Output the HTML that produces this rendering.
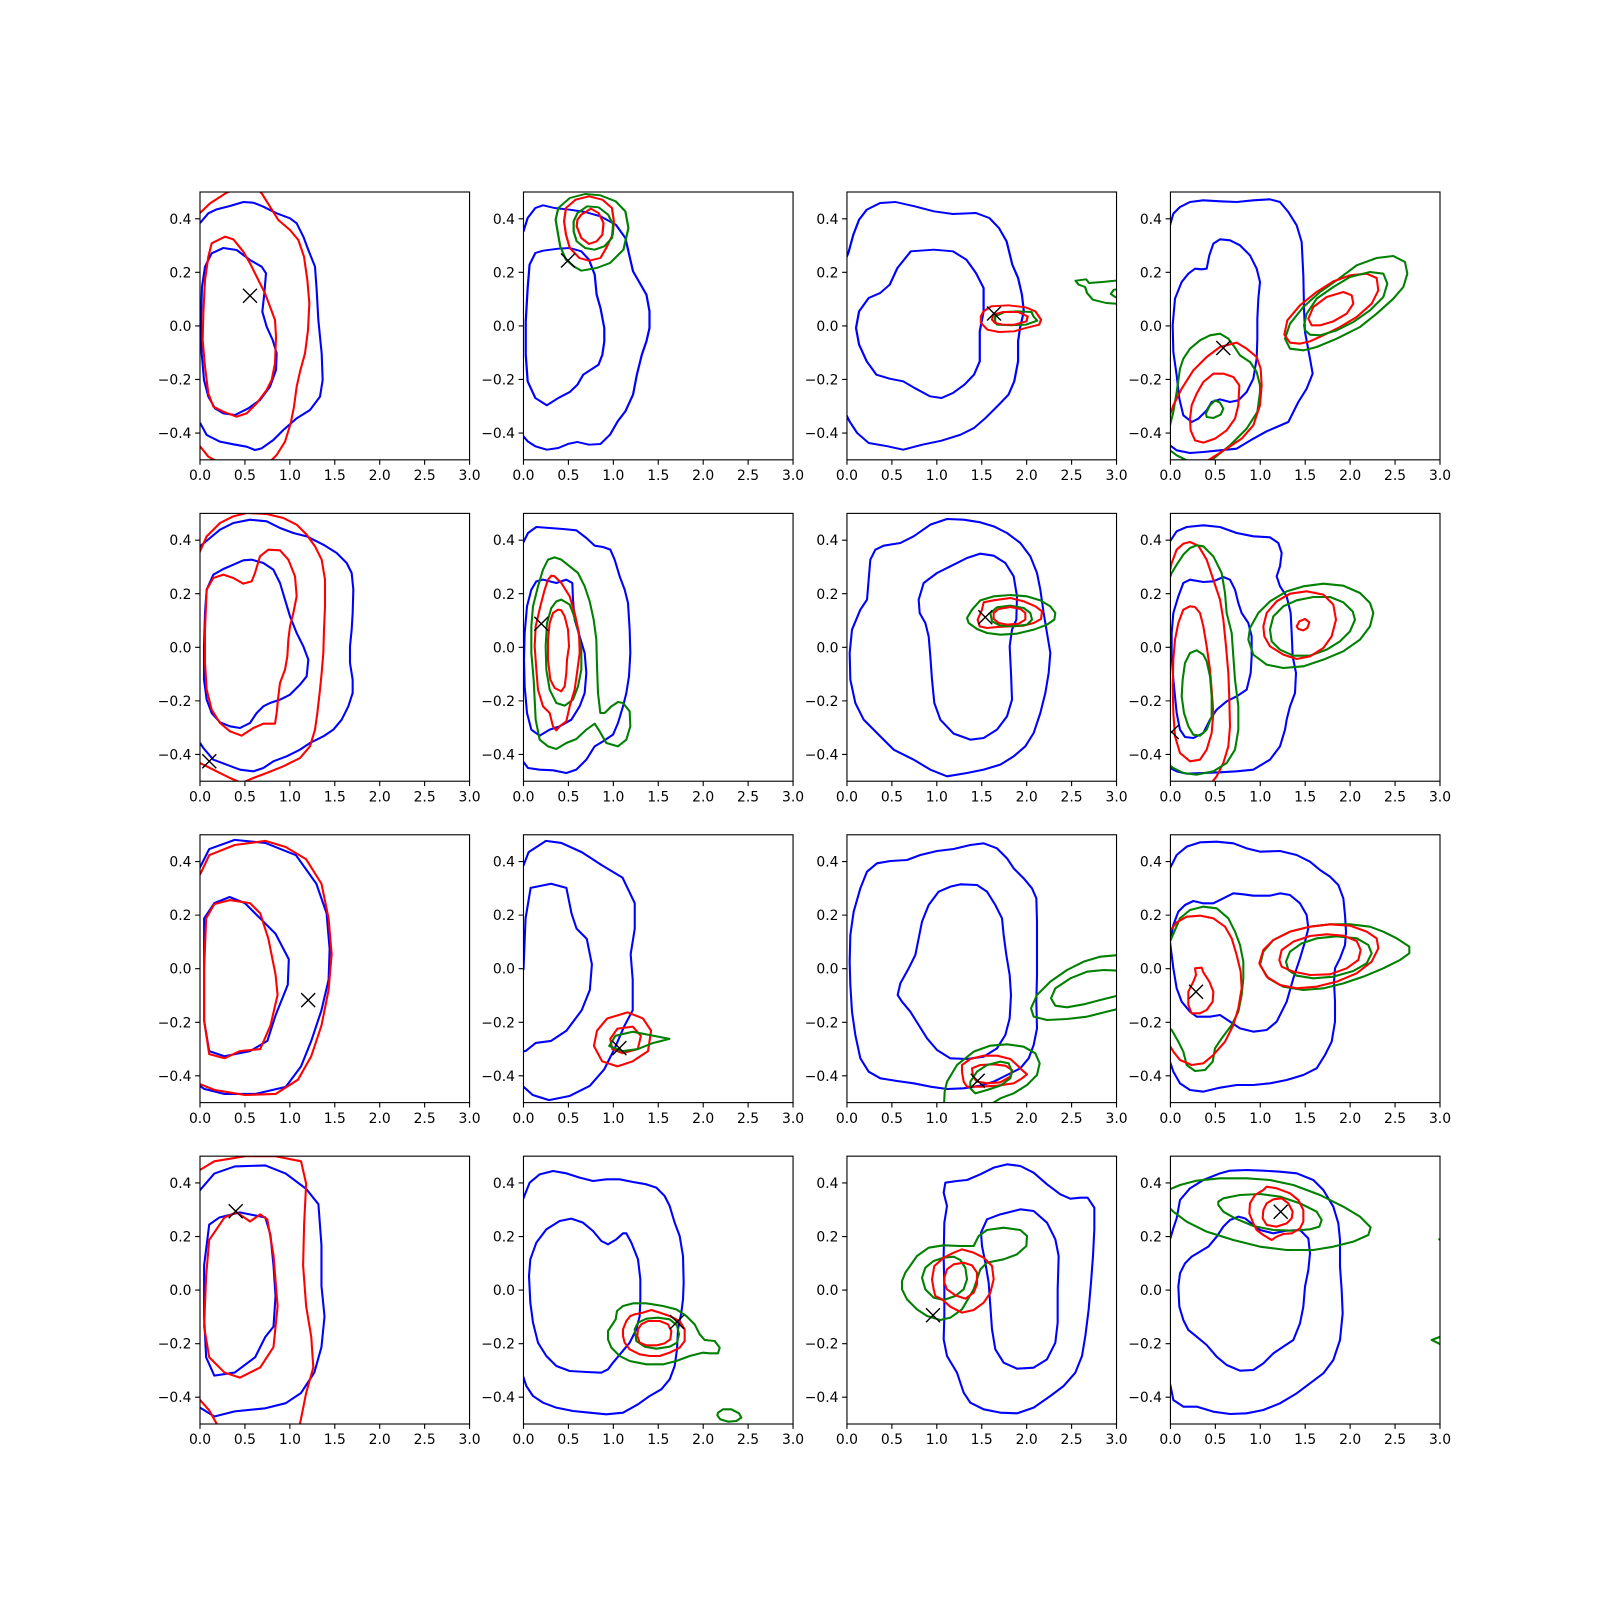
<!DOCTYPE html>
<html><head><meta charset="utf-8"><style>
html,body{margin:0;padding:0;background:#fff;}
svg{display:block;}
.b,.r,.g{fill:none;stroke-linejoin:round;stroke-linecap:round;}
.b{stroke:#0000ff;}.r{stroke:#ff0000;}.g{stroke:#008000;}
.s3{stroke-width:6.25;}
.sz{stroke-width:5.8;}
.s1{stroke-width:2.04;}
.fr{fill:none;stroke:#000;stroke-width:1.11;}
.tk{fill:none;stroke:#000;stroke-width:1.11;}
.mk{fill:none;stroke:#000;stroke-width:1.39;}
text{font-family:"DejaVu Sans","Liberation Sans",sans-serif;font-size:13.9px;fill:#000;}
.xl{text-anchor:middle;}.yl{text-anchor:end;}
</style></head><body>
<svg width="1600" height="1600" viewBox="0 0 1600 1600" xmlns="http://www.w3.org/2000/svg">
<rect width="1600" height="1600" fill="#fff"/>
<defs>
<clipPath id="c11"><rect x="200" y="192" width="269.57" height="267.83"/></clipPath>
<clipPath id="c12"><rect x="523.48" y="192" width="269.57" height="267.83"/></clipPath>
<clipPath id="c13"><rect x="846.96" y="192" width="269.57" height="267.83"/></clipPath>
<clipPath id="c14"><rect x="1170.43" y="192" width="269.57" height="267.83"/></clipPath>
<clipPath id="c21"><rect x="200" y="513.39" width="269.57" height="267.83"/></clipPath>
<clipPath id="c22"><rect x="523.48" y="513.39" width="269.57" height="267.83"/></clipPath>
<clipPath id="c23"><rect x="846.96" y="513.39" width="269.57" height="267.83"/></clipPath>
<clipPath id="c24"><rect x="1170.43" y="513.39" width="269.57" height="267.83"/></clipPath>
<clipPath id="c31"><rect x="200" y="834.78" width="269.57" height="267.83"/></clipPath>
<clipPath id="c32"><rect x="523.48" y="834.78" width="269.57" height="267.83"/></clipPath>
<clipPath id="c33"><rect x="846.96" y="834.78" width="269.57" height="267.83"/></clipPath>
<clipPath id="c34"><rect x="1170.43" y="834.78" width="269.57" height="267.83"/></clipPath>
<clipPath id="c41"><rect x="200" y="1156.17" width="269.57" height="267.83"/></clipPath>
<clipPath id="c42"><rect x="523.48" y="1156.17" width="269.57" height="267.83"/></clipPath>
<clipPath id="c43"><rect x="846.96" y="1156.17" width="269.57" height="267.83"/></clipPath>
<clipPath id="c44"><rect x="1170.43" y="1156.17" width="269.57" height="267.83"/></clipPath>
</defs>

<!-- Panel 1,1 -->
<g clip-path="url(#c11)">
<g transform="translate(150,180) scale(0.33333)" class="s3">
<polyline class="b" points="135,138 151,128 175,100 200,88 240,78 280,66 310,68 340,80 380,100 420,115 440,130 460,170 475,210 495,260 500,330 505,420 515,520 518,600 510,650 480,690 440,715 400,750 370,780 335,805 315,810 290,800 250,793 210,785 170,765 151,730 135,718"/>
<polygon class="b" points="220,204 260,210 300,240 335,260 348,280 343,340 337,395 350,440 368,480 380,520 378,570 360,620 330,660 295,685 255,705 220,700 195,685 175,650 162,600 155,520 153,420 156,320 165,260 185,220"/>
<polyline class="r" points="135,115 151,98 180,70 230,38 260,25 320,25 335,40 360,80 385,120 420,150 445,180 462,230 472,300 478,370 474,450 465,520 450,575 440,620 432,680 422,730 405,785 380,825 360,845 300,860 220,855 175,830 151,800 135,788"/>
<polygon class="r" points="225,170 250,178 280,215 300,250 325,300 345,340 360,380 375,420 378,470 375,550 365,600 350,630 320,670 290,700 260,710 220,695 190,680 175,640 165,560 158,480 160,400 165,300 175,230 185,190"/>
</g>
<path class="mk" d="M243,288.7l14,14M243,302.7l14,-14"/>
</g>

<!-- Panel 1,2 -->
<g clip-path="url(#c12)">
<g transform="translate(520,188) scale(0.38314,0.33333)" class="sz">
<polyline class="b" points="-5,145 9,130 20,90 40,60 60,52 90,60 130,65 170,72 210,85 250,110 275,150 285,200 295,250 310,280 330,320 338,370 338,420 330,460 318,500 305,560 295,620 275,670 255,700 235,740 210,768 180,770 150,762 125,768 100,780 70,785 40,775 20,760 9,745 -5,738"/>
<polygon class="b" points="40,195 25,230 20,300 15,400 15,500 20,580 40,630 70,652 100,630 130,612 150,590 165,560 185,545 205,530 215,500 220,460 220,420 210,360 200,320 195,260 180,215 160,190 130,180 100,182 60,188"/>
<polygon class="g" points="100,60 130,30 170,18 210,22 250,40 275,70 283,120 270,185 235,225 200,240 160,248 140,235 120,215 105,175 98,130 93,95"/>
<polygon class="r" points="120,60 145,35 180,25 215,35 240,60 245,100 242,140 225,180 210,210 180,218 155,210 130,180 120,140 115,100"/>
<polygon class="g" points="150,75 175,55 205,58 230,80 243,110 240,150 220,175 195,185 170,180 148,160 140,130 140,100"/>
<polygon class="r" points="160,80 185,62 205,75 218,105 215,140 200,160 180,168 160,150 148,115 150,95"/>
</g>
<path class="mk" d="M561,253.5l14,14M561,267.5l14,-14"/>
</g>

<!-- Panel 1,3 -->
<g clip-path="url(#c13)">
<g transform="translate(520,188) scale(0.38314,0.33333)" class="sz">
<polyline class="b" points="840,240 857,195 870,140 885,95 905,65 940,45 980,42 1030,55 1080,70 1130,78 1190,75 1225,90 1250,120 1270,160 1285,230 1300,270 1310,320 1315,370 1305,420 1300,460 1300,520 1290,580 1275,620 1250,650 1215,690 1185,720 1150,740 1100,758 1050,770 1000,785 960,775 910,765 880,735 860,700 845,665"/>
<polygon class="b" points="1020,190 1080,185 1130,190 1165,215 1190,255 1210,300 1210,370 1200,430 1200,520 1185,560 1160,590 1130,615 1100,630 1070,625 1030,600 1000,580 965,572 930,560 905,520 885,470 877,420 885,370 910,330 940,315 965,290 985,240"/>
<polygon class="r" points="1210,370 1230,355 1275,352 1320,358 1345,370 1360,395 1355,410 1320,420 1290,430 1250,432 1220,425 1203,405 1203,385"/>
<polygon class="g" points="1240,385 1265,372 1300,370 1335,372 1340,385 1350,398 1320,410 1280,412 1245,410 1240,400"/>
<polygon class="r" points="1235,380 1260,372 1300,372 1325,385 1322,400 1290,410 1260,410 1240,405 1232,395"/>
<polyline class="g" points="1620,270 1520,282 1485,285 1478,274 1450,278 1458,290 1475,297 1480,315 1495,335 1530,345 1620,352"/>
<polyline class="g" points="1620,298 1550,305 1542,318 1555,328 1620,332"/>
</g>
<path class="mk" d="M987,306.5l14,14M987,320.5l14,-14"/>
</g>

<!-- Panel 1,4 -->
<g clip-path="url(#c14)">
<g transform="translate(1170,192) scale(0.33333)" class="s3">
<polyline class="b" points="-10,110 0,100 10,65 30,45 60,30 100,25 150,28 200,30 250,25 300,22 330,30 355,60 380,100 395,150 400,250 402,350 405,420 420,500 428,545 410,590 385,630 355,690 320,705 290,718 250,740 200,770 150,775 100,780 60,783 20,775 0,760 -10,752"/>
<polygon class="b" points="150,142 130,155 118,190 110,230 95,232 75,230 55,245 35,270 15,320 8,400 10,480 20,550 28,620 40,670 65,690 85,680 110,655 125,630 150,622 180,630 205,625 230,600 250,560 260,500 262,440 262,380 265,320 270,270 260,230 240,190 210,160 180,145"/>
<polygon class="g" points="-15,740 0,700 10,660 20,600 30,530 40,500 60,470 90,445 120,430 150,425 175,440 190,460 210,490 240,510 260,540 270,580 270,600 262,660 230,710 180,760 130,800 90,815 50,805 20,790 0,775 -15,770"/>
<polygon class="g" points="110,660 120,640 135,625 150,632 160,650 152,668 130,678 110,675 108,665"/>
<polyline class="r" points="-15,710 10,640 35,590 70,535 110,495 150,465 200,452 230,470 260,495 272,530 275,580 270,640 250,700 215,740 170,770 130,795 90,820"/>
<polygon class="r" points="130,545 160,545 190,555 208,580 205,640 195,680 170,715 135,740 100,752 75,745 62,715 60,680 65,640 80,605 100,570"/>
<polygon class="g" points="345,440 360,395 400,345 450,300 500,265 560,220 620,198 670,192 705,210 712,245 700,285 670,320 620,365 570,405 500,440 440,465 400,475 360,470"/>
<polygon class="r" points="343,428 352,385 390,340 440,300 490,268 540,250 590,245 620,258 625,295 605,335 560,375 510,405 460,430 420,448 390,455 360,452"/>
<polygon class="g" points="402,400 410,365 440,320 490,285 540,255 600,240 640,245 652,275 640,315 600,355 550,390 500,415 450,430 420,428 405,415"/>
<polygon class="r" points="415,380 430,345 470,315 520,300 545,310 550,335 530,365 490,388 450,400 425,400"/>
</g>
<path class="mk" d="M1216.3,341l14,14M1216.3,355l14,-14"/>
</g>

<!-- Panel 2,1 -->
<g clip-path="url(#c21)">
<g transform="translate(200,513) scale(0.33333)" class="s3">
<polyline class="b" points="-10,115 0,100 30,75 60,50 100,30 150,20 200,25 240,45 280,60 320,70 370,95 410,120 440,150 455,180 460,230 458,300 455,350 450,400 450,450 458,500 458,540 445,580 425,620 400,650 370,670 330,690 300,710 260,730 220,745 190,765 160,775 120,770 80,755 40,740 10,705 0,690 -10,680"/>
<polygon class="b" points="155,140 190,150 220,170 240,210 255,260 270,310 290,360 310,400 325,440 320,490 300,515 270,545 240,560 210,570 190,580 170,600 150,630 120,645 90,640 60,628 35,600 20,560 12,500 12,400 15,300 20,230 40,185 70,168 100,155 130,142"/>
<polyline class="r" points="-10,140 0,115 20,70 60,30 100,10 140,0 200,3 250,15 290,35 320,65 345,100 365,140 375,200 375,280 372,350 370,420 365,480 360,530 352,600 345,650 330,700 300,735 250,760 200,780 160,795 125,810 90,795 40,770 0,750 -10,745"/>
<polygon class="r" points="20,230 40,195 70,185 100,195 130,212 155,205 165,180 180,130 205,110 240,112 265,140 285,190 290,250 280,300 270,340 265,380 262,430 255,470 240,510 235,550 230,600 225,632 190,632 160,645 125,668 90,655 60,630 35,590 20,530 15,450 15,350"/>
</g>
<path class="mk" d="M202.3,754.3l14,14M202.3,768.3l14,-14"/>
</g>

<!-- Panel 2,2 -->
<g clip-path="url(#c22)">
<g transform="translate(523,513) scale(0.33333)" class="s3">
<polyline class="b" points="-10,105 0,90 15,60 40,42 80,45 120,48 160,52 190,75 215,98 240,102 262,110 275,140 290,190 305,230 315,270 320,350 322,420 318,490 310,540 300,580 285,630 270,665 240,685 215,700 190,740 160,770 130,780 90,772 50,770 15,765 0,745 -10,738"/>
<polygon class="b" points="40,205 60,200 100,210 130,200 148,210 150,260 155,320 170,370 185,420 190,480 185,540 170,580 145,620 110,640 80,650 50,668 25,650 12,600 5,520 3,440 5,360 12,280 25,230"/>
<polygon class="g" points="95,133 75,140 60,170 45,220 30,280 25,340 25,420 32,500 35,560 38,620 50,680 75,700 100,708 130,690 160,678 190,650 215,632 230,655 250,690 285,700 310,680 322,640 320,595 300,570 285,567 265,580 245,600 232,600 225,540 222,460 220,380 212,320 200,265 185,220 165,180 140,160 115,140"/>
<polygon class="g" points="115,260 100,265 85,285 72,330 68,400 70,470 80,530 100,570 125,578 150,560 165,520 175,470 175,410 165,350 150,300 140,275"/>
<polygon class="r" points="85,188 75,200 65,230 52,280 38,340 35,400 40,470 45,530 60,580 80,600 90,640 100,652 110,640 130,625 140,580 155,530 162,480 170,420 168,360 155,300 140,250 115,210 95,190"/>
<polygon class="r" points="105,290 90,300 80,330 75,380 75,440 82,500 95,525 115,535 125,520 130,480 132,440 138,400 135,350 125,310 115,292"/>
</g>
<path class="mk" d="M534.3,616.7l14,14M534.3,630.7l14,-14"/>
</g>

<!-- Panel 2,3 -->
<g clip-path="url(#c23)">
<g transform="translate(847,513) scale(0.33333)" class="s3">
<polygon class="b" points="300,18 350,20 400,28 440,40 480,60 520,90 550,130 570,180 580,230 590,300 600,360 610,420 605,480 595,540 580,600 560,660 535,700 500,730 460,755 410,770 360,780 300,790 250,770 200,740 140,710 100,670 50,620 25,570 10,500 8,420 15,350 40,290 60,260 65,200 70,140 85,110 110,98 160,90 200,70 250,35"/>
<polygon class="b" points="400,122 440,128 475,150 500,190 510,250 508,320 495,350 488,400 492,480 495,560 480,610 450,650 410,675 370,680 320,662 280,620 262,570 255,500 250,430 245,370 235,330 218,300 215,260 230,210 270,180 320,155 360,135"/>
<polygon class="g" points="360,315 375,290 400,262 440,250 490,246 540,250 580,262 610,280 625,300 622,320 600,335 560,350 510,362 460,365 420,360 390,348 365,330"/>
<polygon class="r" points="392,320 405,290 410,268 440,262 490,255 530,265 565,280 585,295 582,318 560,330 530,338 490,340 450,342 420,345 398,340"/>
<polygon class="g" points="430,300 450,283 490,278 530,285 550,300 555,320 540,335 500,340 460,338 435,325"/>
<polygon class="r" points="440,300 455,288 490,282 520,288 535,300 535,320 515,332 480,335 455,330 440,318"/>
</g>
<path class="mk" d="M978.3,610.3l14,14M978.3,624.3l14,-14"/>
</g>

<!-- Panel 2,4 -->
<g clip-path="url(#c24)">
<g transform="translate(1170,513) scale(0.33333)" class="s3">
<polyline class="b" points="-10,95 0,85 20,55 50,42 100,37 150,42 200,60 250,70 300,73 325,90 335,120 330,160 320,190 330,220 350,250 362,300 365,360 368,430 378,480 375,540 360,580 350,620 345,650 330,700 300,740 250,770 200,775 150,778 100,780 50,782 20,775 0,765 -10,760"/>
<polygon class="b" points="5,360 10,300 25,250 40,210 60,200 100,207 130,205 160,192 180,200 195,230 205,270 215,300 235,330 245,370 245,430 242,480 230,530 200,550 170,565 140,590 120,620 100,660 70,675 45,672 30,650 20,600 10,500 5,430"/>
<polyline class="r" points="-10,220 5,150 20,110 40,92 60,87 85,98 110,140 130,200 150,260 160,320 168,400 175,480 178,560 180,640 175,700 160,750 140,790 120,815"/>
<polyline class="g" points="-10,220 5,180 20,155 40,125 60,105 80,97 100,100 130,130 155,180 165,240 170,300 185,360 190,430 195,500 205,580 205,650 195,710 170,750 130,775 80,785 40,780 10,765 -10,750"/>
<polygon class="r" points="60,280 40,290 25,330 15,380 10,440 8,520 10,600 15,670 30,720 60,745 90,740 110,710 125,660 130,600 125,530 120,470 110,400 100,340 90,300 75,282"/>
<polygon class="g" points="80,412 60,420 45,450 38,500 35,550 42,600 55,640 70,665 90,668 110,650 125,610 125,550 120,490 110,445 100,425"/>
<polygon class="g" points="235,380 240,345 265,300 300,265 350,235 400,220 460,212 520,218 570,240 600,270 610,300 600,340 570,380 520,415 460,440 400,460 340,465 290,455 250,425"/>
<polygon class="g" points="300,350 310,310 340,280 380,262 430,252 480,252 520,268 548,295 555,320 540,355 510,385 470,410 420,428 370,428 330,410 305,385"/>
<polygon class="r" points="280,340 290,300 320,265 360,242 410,235 460,245 490,275 498,320 485,370 460,405 420,430 380,438 340,425 300,400 283,370"/>
<polygon class="r" points="380,340 388,325 405,318 418,328 412,345 400,352 385,348"/>
</g>
<path class="mk" d="M1164.7,725l14,14M1164.7,739l14,-14"/>
</g>

<!-- Panel 3,1 -->
<g clip-path="url(#c31)">
<g transform="scale(1.0205)" class="s1">
<polyline class="b" points="190,862 197,848 205,832 230,823 260,826 290,838 310,866 320,895 323,930 322,960 315,990 305,1020 295,1045 280,1065 250,1072 220,1072 200,1067 190,1060"/>
<polygon class="b" points="225,879 240,885 255,900 270,915 283,940 282,965 270,995 262,1020 245,1030 220,1035 205,1030 200,1000 200,950 200,900 210,885"/>
<polyline class="r" points="190,868 197,855 205,838 230,828 260,824 280,830 300,842 315,866 322,900 325,935 322,970 315,1005 305,1035 292,1058 270,1072 240,1073 210,1068 190,1060"/>
<polygon class="r" points="225,882 245,885 255,895 263,920 270,955 272,975 265,1005 255,1028 235,1030 220,1037 205,1033 200,1000 200,950 202,900 210,886"/>
</g>
<path class="mk" d="M301.2,993.1l14,14M301.2,1007.1l14,-14"/>
</g>

<!-- Panel 3,2 -->
<g clip-path="url(#c32)">
<g transform="scale(1.0205)" class="s1">
<polyline class="b" points="505,860 513,848 518,835 535,824 550,826 570,835 590,848 610,860 622,885 622,910 618,935 620,960 620,990 612,1005 602,1028 592,1048 578,1064 558,1074 538,1078 522,1073 513,1065 505,1058"/>
<polygon class="b" points="513,950 515,900 520,870 540,866 555,870 560,895 565,910 575,920 580,945 578,970 570,990 555,1010 540,1020 525,1022 515,1030 505,1030 505,950"/>
<polygon class="r" points="585,1010 595,998 615,992 630,998 638,1010 635,1030 620,1040 605,1045 590,1040 582,1025"/>
<polygon class="r" points="598,1018 605,1008 620,1006 628,1015 625,1028 610,1032 600,1028"/>
<polygon class="g" points="597,1025 603,1015 620,1011 656,1018 640,1022 625,1028 610,1030"/>
</g>
<path class="mk" d="M612.4,1041.1l14,14M612.4,1055.1l14,-14"/>
</g>

<!-- Panel 3,3 -->
<g clip-path="url(#c33)">
<g transform="translate(847,835) scale(0.33333)" class="s3">
<polygon class="b" points="20,230 40,160 60,110 90,85 130,78 180,75 220,60 270,48 320,42 370,30 410,25 450,40 480,70 500,100 530,130 555,160 568,190 570,260 570,340 570,420 568,500 570,580 560,630 545,670 520,700 480,720 440,740 400,752 350,760 300,762 250,755 200,745 150,738 100,730 65,710 40,670 25,600 15,530 10,450 8,380 10,300"/>
<polygon class="b" points="340,148 390,150 420,170 445,210 465,250 470,300 478,360 488,420 492,480 488,550 475,600 450,640 410,665 360,672 310,670 270,645 240,610 215,570 190,530 165,500 152,480 160,445 185,400 205,360 215,310 225,260 245,210 275,170 310,155"/>
<polyline class="g" points="840,358 760,365 710,380 660,405 610,440 570,480 552,520 560,545 600,555 660,552 720,545 780,530 840,515"/>
<polyline class="g" points="840,408 770,405 720,410 670,430 625,460 612,490 625,512 660,517 710,508 760,495 840,475"/>
<polyline class="g" points="290,830 293,770 300,740 330,690 380,650 430,632 480,628 530,635 565,655 578,685 570,720 540,750 500,775 460,790 420,815"/>
<polygon class="r" points="345,690 370,672 410,662 450,662 490,672 510,690 525,705 540,718 525,730 500,745 450,752 400,755 360,755 350,740 345,710"/>
<polygon class="r" points="375,700 400,690 440,688 475,692 495,705 490,725 460,742 420,745 390,740 378,725"/>
<polygon class="g" points="370,740 390,710 420,690 460,680 485,685 495,710 490,730 460,752 420,765 385,775 370,760"/>
</g>
<path class="mk" d="M970.7,1073.7l14,14M970.7,1087.7l14,-14"/>
</g>

<!-- Panel 3,4 -->
<g clip-path="url(#c34)">
<g transform="translate(1170,835) scale(0.33333)" class="s3">
<polyline class="b" points="-10,110 0,100 20,60 50,35 90,22 140,20 190,25 230,40 270,50 330,48 380,60 420,80 450,105 480,125 505,150 520,190 525,240 528,290 525,330 510,370 495,400 492,440 495,500 495,560 485,620 465,660 440,700 400,720 350,735 300,745 250,750 200,750 150,758 100,770 60,765 30,745 10,710 0,680 -10,670"/>
<polygon class="b" points="0,320 10,270 25,230 45,210 70,198 100,205 130,205 160,190 190,175 220,178 250,182 300,182 330,175 360,180 390,205 410,240 415,280 405,320 390,370 370,430 350,500 320,560 290,585 250,590 210,580 180,560 150,540 120,545 80,545 60,530 35,500 20,460 10,400 5,360"/>
<polyline class="g" points="-10,330 0,320 30,250 60,225 100,215 140,220 175,250 195,290 210,330 220,380 220,430 215,480 205,530 185,570 155,610 135,640 128,680 105,705 75,708 50,690 40,650 25,620 5,585 -10,570"/>
<polyline class="r" points="-10,300 20,262 50,245 90,242 130,250 165,275 185,310 200,360 212,410 215,460 205,520 190,570 165,620 130,660 100,685 65,690 30,675 10,650 -10,615"/>
<polygon class="r" points="75,400 95,398 100,412 118,440 130,470 128,500 110,525 90,535 65,535 55,510 55,470 70,440 78,420"/>
<polygon class="g" points="270,390 280,350 310,315 360,290 420,275 480,268 540,268 600,275 640,290 680,310 718,335 718,355 690,375 640,400 580,425 520,445 460,460 400,465 340,455 295,430"/>
<polygon class="r" points="268,385 280,345 310,315 360,290 420,275 480,268 540,272 590,290 620,310 625,340 605,380 560,415 500,440 440,455 380,460 330,450 290,425"/>
<polygon class="g" points="348,380 360,350 395,325 440,310 500,304 560,310 595,330 605,355 590,385 550,408 490,425 430,430 380,422 355,405"/>
<polygon class="r" points="328,375 335,345 370,320 420,303 470,298 520,302 560,318 572,345 565,375 530,400 480,418 420,420 370,410 335,395"/>
</g>
<path class="mk" d="M1189,984.7l14,14M1189,998.7l14,-14"/>
</g>

<!-- Panel 4,1 -->
<g clip-path="url(#c41)">
<g transform="scale(1.0205)" class="s1">
<polyline class="b" points="190,1175 197,1165 210,1150 230,1143 260,1142 280,1150 300,1165 312,1180 315,1220 315,1260 318,1290 315,1320 308,1345 295,1365 280,1375 260,1380 230,1383 210,1388 197,1380 190,1375"/>
<polygon class="b" points="205,1200 215,1193 235,1188 260,1193 265,1210 268,1240 270,1270 268,1300 260,1310 250,1330 230,1345 210,1348 202,1330 200,1290 200,1240"/>
<polyline class="r" points="190,1150 210,1138 240,1133 270,1133 295,1138 300,1160 298,1200 297,1240 300,1280 305,1310 307,1340 300,1365 293,1400 250,1410 215,1400 205,1382 190,1365"/>
<polygon class="r" points="220,1193 232,1188 245,1197 255,1190 262,1195 268,1230 272,1280 268,1320 255,1340 235,1350 220,1345 205,1330 200,1300 202,1250 205,1215"/>
</g>
<path class="mk" d="M228.7,1204.3l14,14M228.7,1218.3l14,-14"/>
</g>

<!-- Panel 4,2 -->
<g clip-path="url(#c42)">
<g transform="translate(523,1156) scale(0.33333)" class="s3">
<polyline class="b" points="-10,145 0,130 20,80 50,55 90,45 130,52 170,65 210,75 250,70 290,70 330,78 370,85 400,95 425,120 440,150 455,200 470,240 480,300 482,380 480,430 475,470 465,520 462,580 455,630 440,670 415,700 380,720 345,745 300,770 250,775 200,770 150,765 100,755 60,740 30,720 10,690 0,660 -10,650"/>
<polygon class="b" points="145,188 180,200 210,225 235,255 255,265 280,250 300,232 310,232 325,260 345,310 352,370 352,430 350,480 340,520 320,560 295,590 270,620 255,640 235,650 190,648 140,645 100,630 70,600 45,560 30,500 22,440 18,360 22,310 40,260 70,220 110,195"/>
<polygon class="g" points="255,525 265,510 278,490 282,465 300,450 330,442 370,442 420,450 460,460 490,480 515,505 530,535 545,552 575,555 590,575 585,592 560,592 540,590 500,600 460,615 420,625 370,625 320,615 290,600 265,575 255,550"/>
<polygon class="r" points="300,520 310,495 322,480 335,475 360,470 385,462 410,470 440,480 470,495 485,520 485,555 470,575 440,590 410,600 380,600 350,595 320,580 305,560 300,540"/>
<polygon class="g" points="335,520 345,500 370,488 405,485 440,490 462,508 468,535 462,560 440,572 400,578 365,572 340,555"/>
<polygon class="r" points="345,520 355,505 375,495 410,495 435,505 445,525 442,550 425,562 400,568 370,568 350,560 343,540"/>
<polygon class="g" points="585,770 600,760 625,760 648,772 655,785 640,795 615,797 592,790 583,778"/>
</g>
<path class="mk" d="M670,1315l14,14M670,1329l14,-14"/>
</g>

<!-- Panel 4,3 -->
<g clip-path="url(#c43)">
<g transform="translate(847,1156) scale(0.33333)" class="s3">
<polygon class="b" points="295,80 330,75 360,72 400,55 440,35 480,25 520,30 560,50 600,85 640,115 670,128 700,125 722,125 742,155 742,220 738,300 732,380 725,460 715,540 705,600 685,650 650,690 610,720 560,755 510,772 460,770 410,760 370,740 350,710 330,650 300,600 290,550 292,480 292,400 290,300 292,200 300,150 290,110"/>
<polygon class="b" points="520,160 560,165 600,200 625,250 635,300 632,400 632,500 625,560 600,610 560,635 510,638 470,620 445,580 435,520 430,450 425,380 415,320 405,270 402,230 420,190 460,175"/>
<polygon class="g" points="165,375 175,350 210,300 245,275 290,268 340,270 380,270 395,240 420,222 470,215 520,222 540,240 538,270 510,295 470,310 420,320 400,340 380,400 345,460 310,485 280,492 240,480 210,460 180,430 165,400"/>
<polygon class="g" points="225,365 235,335 260,315 290,305 320,302 340,312 355,335 360,370 350,400 325,420 290,432 260,425 235,400"/>
<polygon class="r" points="255,370 262,330 290,305 320,290 345,280 380,290 410,305 435,330 440,370 430,410 410,440 380,462 345,470 310,452 285,430 265,420 260,400"/>
<polygon class="r" points="292,365 300,340 320,325 350,320 375,328 390,350 390,385 380,410 355,428 325,418 300,400 292,380"/>
</g>
<path class="mk" d="M926,1308.3l14,14M926,1322.3l14,-14"/>
</g>

<!-- Panel 4,4 -->
<g clip-path="url(#c44)">
<g transform="translate(1120,1140) scale(0.33333)" class="s3">
<polyline class="b" points="140,305 151,295 160,265 170,235 180,180 210,145 250,120 300,100 330,92 380,90 430,92 480,95 530,100 580,120 610,150 640,200 655,250 660,300 660,380 665,450 668,520 660,600 640,660 610,700 570,730 530,760 480,790 430,810 380,820 330,822 280,815 230,800 190,800 160,780 151,735 140,728"/>
<polygon class="b" points="355,230 375,235 400,255 420,270 460,280 500,272 540,270 565,295 570,340 565,390 555,440 550,500 540,550 520,600 490,620 460,640 430,670 400,690 360,692 320,675 290,650 260,615 230,590 205,570 190,540 178,500 175,440 180,400 195,370 215,350 240,335 265,320 290,290 310,260 330,240"/>
<polygon class="g" points="130,170 145,150 180,135 230,122 300,115 380,115 450,120 520,135 600,165 670,200 720,230 752,262 745,285 700,305 640,320 580,330 500,330 420,320 340,300 260,275 200,245 160,215 135,190"/>
<polygon class="g" points="295,185 310,175 360,165 420,162 480,170 540,190 590,215 605,240 598,260 570,268 520,272 460,270 400,258 345,235 310,215 295,195"/>
<polygon class="r" points="390,190 405,165 430,150 440,140 470,145 510,160 535,180 550,210 550,245 540,265 515,280 490,282 470,290 455,300 430,285 410,270 400,250 388,220"/>
<polygon class="r" points="430,210 440,190 460,178 485,175 505,190 518,215 515,235 500,250 470,260 440,255 428,235"/>
<polyline class="g" points="980,283 958,298 980,312"/>
<polyline class="g" points="980,583 935,600 980,622"/>
</g>
<path class="mk" d="M1273.7,1204.7l14,14M1273.7,1218.7l14,-14"/>
</g>

<!-- Axes frames, ticks and labels -->
<g transform="translate(200,192)">
<rect class="fr" x="0" y="0" width="269.57" height="267.83"/>
<path class="tk" d="M0 267.83v4.86M44.93 267.83v4.86M89.86 267.83v4.86M134.78 267.83v4.86M179.71 267.83v4.86M224.64 267.83v4.86M269.57 267.83v4.86M0 26.78h-4.86M0 80.35h-4.86M0 133.91h-4.86M0 187.48h-4.86M0 241.04h-4.86"/>
<text class="xl" x="0" y="288">0.0</text><text class="xl" x="44.93" y="288">0.5</text><text class="xl" x="89.86" y="288">1.0</text><text class="xl" x="134.78" y="288">1.5</text><text class="xl" x="179.71" y="288">2.0</text><text class="xl" x="224.64" y="288">2.5</text><text class="xl" x="269.57" y="288">3.0</text>
<text class="yl" x="-8.5" y="31.8">0.4</text><text class="yl" x="-8.5" y="85.4">0.2</text><text class="yl" x="-8.5" y="138.9">0.0</text><text class="yl" x="-8.5" y="192.5">−0.2</text><text class="yl" x="-8.5" y="246">−0.4</text>
</g>
<g transform="translate(523.48,192)">
<rect class="fr" x="0" y="0" width="269.57" height="267.83"/>
<path class="tk" d="M0 267.83v4.86M44.93 267.83v4.86M89.86 267.83v4.86M134.78 267.83v4.86M179.71 267.83v4.86M224.64 267.83v4.86M269.57 267.83v4.86M0 26.78h-4.86M0 80.35h-4.86M0 133.91h-4.86M0 187.48h-4.86M0 241.04h-4.86"/>
<text class="xl" x="0" y="288">0.0</text><text class="xl" x="44.93" y="288">0.5</text><text class="xl" x="89.86" y="288">1.0</text><text class="xl" x="134.78" y="288">1.5</text><text class="xl" x="179.71" y="288">2.0</text><text class="xl" x="224.64" y="288">2.5</text><text class="xl" x="269.57" y="288">3.0</text>
<text class="yl" x="-8.5" y="31.8">0.4</text><text class="yl" x="-8.5" y="85.4">0.2</text><text class="yl" x="-8.5" y="138.9">0.0</text><text class="yl" x="-8.5" y="192.5">−0.2</text><text class="yl" x="-8.5" y="246">−0.4</text>
</g>
<g transform="translate(846.96,192)">
<rect class="fr" x="0" y="0" width="269.57" height="267.83"/>
<path class="tk" d="M0 267.83v4.86M44.93 267.83v4.86M89.86 267.83v4.86M134.78 267.83v4.86M179.71 267.83v4.86M224.64 267.83v4.86M269.57 267.83v4.86M0 26.78h-4.86M0 80.35h-4.86M0 133.91h-4.86M0 187.48h-4.86M0 241.04h-4.86"/>
<text class="xl" x="0" y="288">0.0</text><text class="xl" x="44.93" y="288">0.5</text><text class="xl" x="89.86" y="288">1.0</text><text class="xl" x="134.78" y="288">1.5</text><text class="xl" x="179.71" y="288">2.0</text><text class="xl" x="224.64" y="288">2.5</text><text class="xl" x="269.57" y="288">3.0</text>
<text class="yl" x="-8.5" y="31.8">0.4</text><text class="yl" x="-8.5" y="85.4">0.2</text><text class="yl" x="-8.5" y="138.9">0.0</text><text class="yl" x="-8.5" y="192.5">−0.2</text><text class="yl" x="-8.5" y="246">−0.4</text>
</g>
<g transform="translate(1170.43,192)">
<rect class="fr" x="0" y="0" width="269.57" height="267.83"/>
<path class="tk" d="M0 267.83v4.86M44.93 267.83v4.86M89.86 267.83v4.86M134.78 267.83v4.86M179.71 267.83v4.86M224.64 267.83v4.86M269.57 267.83v4.86M0 26.78h-4.86M0 80.35h-4.86M0 133.91h-4.86M0 187.48h-4.86M0 241.04h-4.86"/>
<text class="xl" x="0" y="288">0.0</text><text class="xl" x="44.93" y="288">0.5</text><text class="xl" x="89.86" y="288">1.0</text><text class="xl" x="134.78" y="288">1.5</text><text class="xl" x="179.71" y="288">2.0</text><text class="xl" x="224.64" y="288">2.5</text><text class="xl" x="269.57" y="288">3.0</text>
<text class="yl" x="-8.5" y="31.8">0.4</text><text class="yl" x="-8.5" y="85.4">0.2</text><text class="yl" x="-8.5" y="138.9">0.0</text><text class="yl" x="-8.5" y="192.5">−0.2</text><text class="yl" x="-8.5" y="246">−0.4</text>
</g>

<g transform="translate(200,513.39)">
<rect class="fr" x="0" y="0" width="269.57" height="267.83"/>
<path class="tk" d="M0 267.83v4.86M44.93 267.83v4.86M89.86 267.83v4.86M134.78 267.83v4.86M179.71 267.83v4.86M224.64 267.83v4.86M269.57 267.83v4.86M0 26.78h-4.86M0 80.35h-4.86M0 133.91h-4.86M0 187.48h-4.86M0 241.04h-4.86"/>
<text class="xl" x="0" y="288">0.0</text><text class="xl" x="44.93" y="288">0.5</text><text class="xl" x="89.86" y="288">1.0</text><text class="xl" x="134.78" y="288">1.5</text><text class="xl" x="179.71" y="288">2.0</text><text class="xl" x="224.64" y="288">2.5</text><text class="xl" x="269.57" y="288">3.0</text>
<text class="yl" x="-8.5" y="31.8">0.4</text><text class="yl" x="-8.5" y="85.4">0.2</text><text class="yl" x="-8.5" y="138.9">0.0</text><text class="yl" x="-8.5" y="192.5">−0.2</text><text class="yl" x="-8.5" y="246">−0.4</text>
</g>
<g transform="translate(523.48,513.39)">
<rect class="fr" x="0" y="0" width="269.57" height="267.83"/>
<path class="tk" d="M0 267.83v4.86M44.93 267.83v4.86M89.86 267.83v4.86M134.78 267.83v4.86M179.71 267.83v4.86M224.64 267.83v4.86M269.57 267.83v4.86M0 26.78h-4.86M0 80.35h-4.86M0 133.91h-4.86M0 187.48h-4.86M0 241.04h-4.86"/>
<text class="xl" x="0" y="288">0.0</text><text class="xl" x="44.93" y="288">0.5</text><text class="xl" x="89.86" y="288">1.0</text><text class="xl" x="134.78" y="288">1.5</text><text class="xl" x="179.71" y="288">2.0</text><text class="xl" x="224.64" y="288">2.5</text><text class="xl" x="269.57" y="288">3.0</text>
<text class="yl" x="-8.5" y="31.8">0.4</text><text class="yl" x="-8.5" y="85.4">0.2</text><text class="yl" x="-8.5" y="138.9">0.0</text><text class="yl" x="-8.5" y="192.5">−0.2</text><text class="yl" x="-8.5" y="246">−0.4</text>
</g>
<g transform="translate(846.96,513.39)">
<rect class="fr" x="0" y="0" width="269.57" height="267.83"/>
<path class="tk" d="M0 267.83v4.86M44.93 267.83v4.86M89.86 267.83v4.86M134.78 267.83v4.86M179.71 267.83v4.86M224.64 267.83v4.86M269.57 267.83v4.86M0 26.78h-4.86M0 80.35h-4.86M0 133.91h-4.86M0 187.48h-4.86M0 241.04h-4.86"/>
<text class="xl" x="0" y="288">0.0</text><text class="xl" x="44.93" y="288">0.5</text><text class="xl" x="89.86" y="288">1.0</text><text class="xl" x="134.78" y="288">1.5</text><text class="xl" x="179.71" y="288">2.0</text><text class="xl" x="224.64" y="288">2.5</text><text class="xl" x="269.57" y="288">3.0</text>
<text class="yl" x="-8.5" y="31.8">0.4</text><text class="yl" x="-8.5" y="85.4">0.2</text><text class="yl" x="-8.5" y="138.9">0.0</text><text class="yl" x="-8.5" y="192.5">−0.2</text><text class="yl" x="-8.5" y="246">−0.4</text>
</g>
<g transform="translate(1170.43,513.39)">
<rect class="fr" x="0" y="0" width="269.57" height="267.83"/>
<path class="tk" d="M0 267.83v4.86M44.93 267.83v4.86M89.86 267.83v4.86M134.78 267.83v4.86M179.71 267.83v4.86M224.64 267.83v4.86M269.57 267.83v4.86M0 26.78h-4.86M0 80.35h-4.86M0 133.91h-4.86M0 187.48h-4.86M0 241.04h-4.86"/>
<text class="xl" x="0" y="288">0.0</text><text class="xl" x="44.93" y="288">0.5</text><text class="xl" x="89.86" y="288">1.0</text><text class="xl" x="134.78" y="288">1.5</text><text class="xl" x="179.71" y="288">2.0</text><text class="xl" x="224.64" y="288">2.5</text><text class="xl" x="269.57" y="288">3.0</text>
<text class="yl" x="-8.5" y="31.8">0.4</text><text class="yl" x="-8.5" y="85.4">0.2</text><text class="yl" x="-8.5" y="138.9">0.0</text><text class="yl" x="-8.5" y="192.5">−0.2</text><text class="yl" x="-8.5" y="246">−0.4</text>
</g>

<g transform="translate(200,834.78)">
<rect class="fr" x="0" y="0" width="269.57" height="267.83"/>
<path class="tk" d="M0 267.83v4.86M44.93 267.83v4.86M89.86 267.83v4.86M134.78 267.83v4.86M179.71 267.83v4.86M224.64 267.83v4.86M269.57 267.83v4.86M0 26.78h-4.86M0 80.35h-4.86M0 133.91h-4.86M0 187.48h-4.86M0 241.04h-4.86"/>
<text class="xl" x="0" y="288">0.0</text><text class="xl" x="44.93" y="288">0.5</text><text class="xl" x="89.86" y="288">1.0</text><text class="xl" x="134.78" y="288">1.5</text><text class="xl" x="179.71" y="288">2.0</text><text class="xl" x="224.64" y="288">2.5</text><text class="xl" x="269.57" y="288">3.0</text>
<text class="yl" x="-8.5" y="31.8">0.4</text><text class="yl" x="-8.5" y="85.4">0.2</text><text class="yl" x="-8.5" y="138.9">0.0</text><text class="yl" x="-8.5" y="192.5">−0.2</text><text class="yl" x="-8.5" y="246">−0.4</text>
</g>
<g transform="translate(523.48,834.78)">
<rect class="fr" x="0" y="0" width="269.57" height="267.83"/>
<path class="tk" d="M0 267.83v4.86M44.93 267.83v4.86M89.86 267.83v4.86M134.78 267.83v4.86M179.71 267.83v4.86M224.64 267.83v4.86M269.57 267.83v4.86M0 26.78h-4.86M0 80.35h-4.86M0 133.91h-4.86M0 187.48h-4.86M0 241.04h-4.86"/>
<text class="xl" x="0" y="288">0.0</text><text class="xl" x="44.93" y="288">0.5</text><text class="xl" x="89.86" y="288">1.0</text><text class="xl" x="134.78" y="288">1.5</text><text class="xl" x="179.71" y="288">2.0</text><text class="xl" x="224.64" y="288">2.5</text><text class="xl" x="269.57" y="288">3.0</text>
<text class="yl" x="-8.5" y="31.8">0.4</text><text class="yl" x="-8.5" y="85.4">0.2</text><text class="yl" x="-8.5" y="138.9">0.0</text><text class="yl" x="-8.5" y="192.5">−0.2</text><text class="yl" x="-8.5" y="246">−0.4</text>
</g>
<g transform="translate(846.96,834.78)">
<rect class="fr" x="0" y="0" width="269.57" height="267.83"/>
<path class="tk" d="M0 267.83v4.86M44.93 267.83v4.86M89.86 267.83v4.86M134.78 267.83v4.86M179.71 267.83v4.86M224.64 267.83v4.86M269.57 267.83v4.86M0 26.78h-4.86M0 80.35h-4.86M0 133.91h-4.86M0 187.48h-4.86M0 241.04h-4.86"/>
<text class="xl" x="0" y="288">0.0</text><text class="xl" x="44.93" y="288">0.5</text><text class="xl" x="89.86" y="288">1.0</text><text class="xl" x="134.78" y="288">1.5</text><text class="xl" x="179.71" y="288">2.0</text><text class="xl" x="224.64" y="288">2.5</text><text class="xl" x="269.57" y="288">3.0</text>
<text class="yl" x="-8.5" y="31.8">0.4</text><text class="yl" x="-8.5" y="85.4">0.2</text><text class="yl" x="-8.5" y="138.9">0.0</text><text class="yl" x="-8.5" y="192.5">−0.2</text><text class="yl" x="-8.5" y="246">−0.4</text>
</g>
<g transform="translate(1170.43,834.78)">
<rect class="fr" x="0" y="0" width="269.57" height="267.83"/>
<path class="tk" d="M0 267.83v4.86M44.93 267.83v4.86M89.86 267.83v4.86M134.78 267.83v4.86M179.71 267.83v4.86M224.64 267.83v4.86M269.57 267.83v4.86M0 26.78h-4.86M0 80.35h-4.86M0 133.91h-4.86M0 187.48h-4.86M0 241.04h-4.86"/>
<text class="xl" x="0" y="288">0.0</text><text class="xl" x="44.93" y="288">0.5</text><text class="xl" x="89.86" y="288">1.0</text><text class="xl" x="134.78" y="288">1.5</text><text class="xl" x="179.71" y="288">2.0</text><text class="xl" x="224.64" y="288">2.5</text><text class="xl" x="269.57" y="288">3.0</text>
<text class="yl" x="-8.5" y="31.8">0.4</text><text class="yl" x="-8.5" y="85.4">0.2</text><text class="yl" x="-8.5" y="138.9">0.0</text><text class="yl" x="-8.5" y="192.5">−0.2</text><text class="yl" x="-8.5" y="246">−0.4</text>
</g>

<g transform="translate(200,1156.17)">
<rect class="fr" x="0" y="0" width="269.57" height="267.83"/>
<path class="tk" d="M0 267.83v4.86M44.93 267.83v4.86M89.86 267.83v4.86M134.78 267.83v4.86M179.71 267.83v4.86M224.64 267.83v4.86M269.57 267.83v4.86M0 26.78h-4.86M0 80.35h-4.86M0 133.91h-4.86M0 187.48h-4.86M0 241.04h-4.86"/>
<text class="xl" x="0" y="288">0.0</text><text class="xl" x="44.93" y="288">0.5</text><text class="xl" x="89.86" y="288">1.0</text><text class="xl" x="134.78" y="288">1.5</text><text class="xl" x="179.71" y="288">2.0</text><text class="xl" x="224.64" y="288">2.5</text><text class="xl" x="269.57" y="288">3.0</text>
<text class="yl" x="-8.5" y="31.8">0.4</text><text class="yl" x="-8.5" y="85.4">0.2</text><text class="yl" x="-8.5" y="138.9">0.0</text><text class="yl" x="-8.5" y="192.5">−0.2</text><text class="yl" x="-8.5" y="246">−0.4</text>
</g>
<g transform="translate(523.48,1156.17)">
<rect class="fr" x="0" y="0" width="269.57" height="267.83"/>
<path class="tk" d="M0 267.83v4.86M44.93 267.83v4.86M89.86 267.83v4.86M134.78 267.83v4.86M179.71 267.83v4.86M224.64 267.83v4.86M269.57 267.83v4.86M0 26.78h-4.86M0 80.35h-4.86M0 133.91h-4.86M0 187.48h-4.86M0 241.04h-4.86"/>
<text class="xl" x="0" y="288">0.0</text><text class="xl" x="44.93" y="288">0.5</text><text class="xl" x="89.86" y="288">1.0</text><text class="xl" x="134.78" y="288">1.5</text><text class="xl" x="179.71" y="288">2.0</text><text class="xl" x="224.64" y="288">2.5</text><text class="xl" x="269.57" y="288">3.0</text>
<text class="yl" x="-8.5" y="31.8">0.4</text><text class="yl" x="-8.5" y="85.4">0.2</text><text class="yl" x="-8.5" y="138.9">0.0</text><text class="yl" x="-8.5" y="192.5">−0.2</text><text class="yl" x="-8.5" y="246">−0.4</text>
</g>
<g transform="translate(846.96,1156.17)">
<rect class="fr" x="0" y="0" width="269.57" height="267.83"/>
<path class="tk" d="M0 267.83v4.86M44.93 267.83v4.86M89.86 267.83v4.86M134.78 267.83v4.86M179.71 267.83v4.86M224.64 267.83v4.86M269.57 267.83v4.86M0 26.78h-4.86M0 80.35h-4.86M0 133.91h-4.86M0 187.48h-4.86M0 241.04h-4.86"/>
<text class="xl" x="0" y="288">0.0</text><text class="xl" x="44.93" y="288">0.5</text><text class="xl" x="89.86" y="288">1.0</text><text class="xl" x="134.78" y="288">1.5</text><text class="xl" x="179.71" y="288">2.0</text><text class="xl" x="224.64" y="288">2.5</text><text class="xl" x="269.57" y="288">3.0</text>
<text class="yl" x="-8.5" y="31.8">0.4</text><text class="yl" x="-8.5" y="85.4">0.2</text><text class="yl" x="-8.5" y="138.9">0.0</text><text class="yl" x="-8.5" y="192.5">−0.2</text><text class="yl" x="-8.5" y="246">−0.4</text>
</g>
<g transform="translate(1170.43,1156.17)">
<rect class="fr" x="0" y="0" width="269.57" height="267.83"/>
<path class="tk" d="M0 267.83v4.86M44.93 267.83v4.86M89.86 267.83v4.86M134.78 267.83v4.86M179.71 267.83v4.86M224.64 267.83v4.86M269.57 267.83v4.86M0 26.78h-4.86M0 80.35h-4.86M0 133.91h-4.86M0 187.48h-4.86M0 241.04h-4.86"/>
<text class="xl" x="0" y="288">0.0</text><text class="xl" x="44.93" y="288">0.5</text><text class="xl" x="89.86" y="288">1.0</text><text class="xl" x="134.78" y="288">1.5</text><text class="xl" x="179.71" y="288">2.0</text><text class="xl" x="224.64" y="288">2.5</text><text class="xl" x="269.57" y="288">3.0</text>
<text class="yl" x="-8.5" y="31.8">0.4</text><text class="yl" x="-8.5" y="85.4">0.2</text><text class="yl" x="-8.5" y="138.9">0.0</text><text class="yl" x="-8.5" y="192.5">−0.2</text><text class="yl" x="-8.5" y="246">−0.4</text>
</g>
</svg>
</body></html>
